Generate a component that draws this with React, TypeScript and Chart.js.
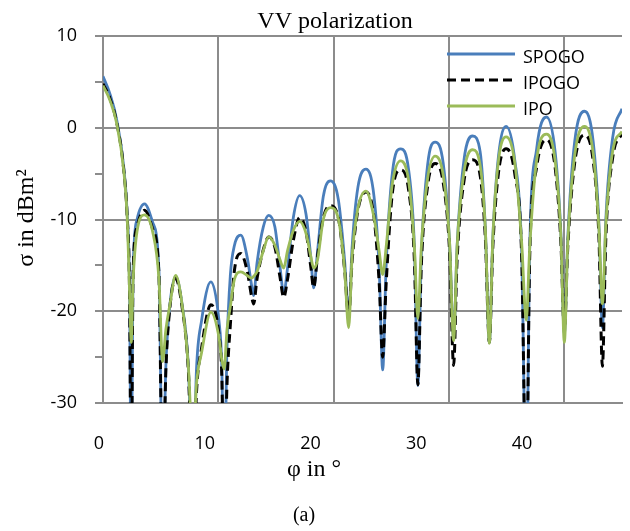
import { useEffect, useRef } from "react";
import { Chart, registerables } from "chart.js";

Chart.register(...registerables);

// ---- data ----
const PHI = [
  0, 0.6, 1.2, 1.8, 2.1, 2.3, 2.45,
  2.6, 2.95, 3.6, 4.3, 4.85, 5.17,
  5.45, 5.8, 6.3, 6.85, 7.4, 7.8,
  8.1, 8.55, 9.35, 10.05, 10.3, 10.5,
  10.75, 11.04, 11.4, 11.95, 12.5, 12.9, 13.06,
  13.35, 13.9, 14.37, 14.9, 15.35, 15.67,
  16.0, 16.5, 17.05, 17.6, 18.0, 18.27,
  18.6, 19.1, 19.71, 20.4, 20.95, 21.3,
  21.6, 22.1, 22.8, 23.5, 23.95, 24.25,
  24.55, 25.1, 25.8, 26.5, 27.0, 27.3,
  27.6, 28.15, 28.8, 29.5, 30.05, 30.4,
  30.7, 31.3, 32.05, 32.7, 33.15, 33.5,
  33.8, 34.3, 34.95, 35.7, 36.3, 36.7,
  37.0, 37.6, 38.45, 39.2, 39.7, 40.0,
  40.3, 40.9, 41.75, 42.5, 43.0, 43.3,
  43.6, 44.2, 45,
];

const SPOGO = [
  5.6, 3.7, 0.8, -4.3, -9.4, -17.4, -40,
  -16, -10, -8.3, -10.3, -15.5, -40,
  -26, -19.3, -16.2, -19.2, -26, -40,
  -26.5, -21, -16.8, -21, -26, -40,
  -24, -16.1, -12.8, -11.7, -14.1, -17.3, -18.3,
  -14.8, -10.8, -9.55, -10.8, -15.2, -18.1,
  -15.3, -9.8, -7.4, -9.4, -13.9, -17.45,
  -13.5, -7.5, -5.8, -7.8, -14.5, -20.6,
  -13, -6.5, -4.5, -7.5, -15.5, -26.4,
  -15, -4.8, -2.3, -4.6, -13, -28.1,
  -14, -4, -1.56, -3.9, -12.5, -23.0,
  -13, -3.5, -0.9, -2.6, -11, -23.4,
  -12, -3, 0.15, -3.5, -13.5, -40,
  -13, -2.3, 1.17, -2.6, -11.5, -22.5,
  -12, -1.5, 1.8, -1.5, -10.5, -21.8,
  -10, -1, 2.07,
];

const IPOGO = [
  4.8, 3.2, 0.5, -4.6, -9.8, -17.8, -40,
  -16.5, -10.8, -9.0, -11, -16, -40,
  -26.5, -19.6, -16.4, -19.5, -26.5, -40,
  -29, -24, -19.3, -22.5, -27, -40,
  -28, -21.5, -15.5, -13.7, -15.6, -18.5, -19.2,
  -16.5, -13.3, -11.9, -13, -16.3, -18.5,
  -16.5, -12.3, -9.8, -11.3, -15, -17.4,
  -14, -9.8, -8.5, -9.8, -15.5, -20.6,
  -14.5, -9, -7.0, -9.8, -17, -25.0,
  -17, -7.0, -4.6, -6.8, -14.5, -28,
  -15, -6.3, -3.9, -6, -13.5, -25.9,
  -14.5, -5.8, -3.5, -5.2, -12, -23.4,
  -13, -4.8, -2.3, -5, -14, -40,
  -14, -4.3, -1.3, -4.3, -12.5, -22,
  -13, -3.8, -0.8, -3.6, -12, -26,
  -12, -3.2, -0.6,
];

const IPO = [
  4.6, 3.0, 0.4, -4.7, -9.8, -17.7, -23.4,
  -17, -11.3, -9.5, -11.3, -16.5, -25.5,
  -22, -19.3, -16.1, -19.2, -26, -35,
  -28, -24.5, -20.1, -22.8, -25.3, -26.3,
  -22, -19.5, -16.5, -15.7, -16.1, -16.4, -16.2,
  -15.7, -13.4, -11.9, -12.8, -14.4, -15.3,
  -13.4, -11.2, -10.2, -11.5, -13.9, -15.3,
  -14.4, -10, -8.7, -9.9, -15.5, -21.8,
  -14, -8.8, -6.9, -9.8, -13.5, -16.0,
  -13, -6, -3.6, -5.8, -13, -20.8,
  -13, -5.5, -3.1, -5.2, -12.5, -23.2,
  -13, -4.8, -2.4, -4.1, -11, -23.5,
  -12, -3.5, -1.0, -3.8, -12.5, -21,
  -13, -3.5, -0.7, -3.6, -11.8, -23.4,
  -12.5, -3, 0.15, -2.8, -11, -19.2,
  -10.5, -2.5, -0.4,
];

const SERIES_NAMES = ["SPOGO", "IPOGO", "IPO"];
const X_TICKS = [0, 10, 20, 30, 40];
const Y_TICKS = [-30, -25, -20, -15, -10, -5, 0, 5, 10];
const TITLE = "VV polarization";
const X_TITLE = "φ in °";
const Y_TITLE = "σ in dBm²";
const CAPTION = "(a)";

const GRID = "#8c8c8c";
const SANS = '"Open Sans", "Liberation Sans", sans-serif';
const SERIF = '"Liberation Serif", "DejaVu Serif", serif';

export default function App() {
  const ref = useRef<HTMLCanvasElement>(null);

  useEffect(() => {
    if (!ref.current) return;
    const pts = (ys: number[]) => PHI.map((x, i) => ({ x, y: ys[i] }));

    const textPlugin = {
      id: "texts",
      afterDraw(chart: any) {
        const ctx = chart.ctx;
        ctx.save();
        ctx.fillStyle = "#000";
        ctx.textAlign = "center";
        ctx.textBaseline = "alphabetic";
        ctx.font = `24px ${SERIF}`;
        ctx.fillText(TITLE, 335, 28);
        ctx.fillText(X_TITLE, 314, 476);
        ctx.font = `20px ${SERIF}`;
        ctx.fillText(CAPTION, 304, 521);
        ctx.translate(33, 218);
        ctx.rotate(-Math.PI / 2);
        ctx.font = `24px ${SERIF}`;
        ctx.fillText(Y_TITLE, 0, 0);
        ctx.restore();
      },
    };

    const legendPlugin = {
      id: "insideLegend",
      afterDatasetsDraw(chart: any) {
        const ctx = chart.ctx;
        ctx.save();
        chart.data.datasets.forEach((ds: any, i: number) => {
          const y = 54 + i * 26;
          ctx.beginPath();
          ctx.strokeStyle = ds.borderColor;
          ctx.lineWidth = 3;
          ctx.setLineDash(ds.borderDash || []);
          ctx.moveTo(447, y);
          ctx.lineTo(515, y);
          ctx.stroke();
          ctx.setLineDash([]);
          ctx.fillStyle = "#000";
          ctx.font = `18px ${SANS}`;
          ctx.textAlign = "left";
          ctx.textBaseline = "alphabetic";
          ctx.fillText(ds.label, 523, y + 8.5);
        });
        ctx.restore();
      },
    };

    const chart = new Chart(ref.current, {
      type: "line",
      data: {
        datasets: [
          {
            label: SERIES_NAMES[0],
            data: pts(SPOGO),
            borderColor: "#4a7ebb",
            borderWidth: 2.8,
            pointRadius: 0,
            cubicInterpolationMode: "monotone",
            order: 3,
          },
          {
            label: SERIES_NAMES[1],
            data: pts(IPOGO),
            borderColor: "#000000",
            borderWidth: 3,
            borderDash: [9, 5],
            pointRadius: 0,
            cubicInterpolationMode: "monotone",
            order: 2,
          },
          {
            label: SERIES_NAMES[2],
            data: pts(IPO),
            borderColor: "#9bbb59",
            borderWidth: 2.8,
            pointRadius: 0,
            cubicInterpolationMode: "monotone",
            order: 1,
          },
        ],
      },
      options: {
        responsive: false,
        animation: false,
        layout: { padding: { left: 0, right: 8, top: 36, bottom: 0 } },
        plugins: {
          legend: { display: false },
          tooltip: { enabled: false },
          title: { display: false },
        },
        scales: {
          x: {
            type: "linear",
            position: "bottom",
            min: 0,
            max: 45,
            afterBuildTicks: (s: any) => {
              s.ticks = X_TICKS.map((v) => ({ value: v }));
            },
            afterFit: (s: any) => {
              s.height = 0;
            },
            ticks: { display: false },
            grid: { color: GRID, lineWidth: 2, drawTicks: false },
            border: { display: true, color: GRID, width: 2 },
          },
          xl: {
            type: "linear",
            position: "bottom",
            min: 0.378,
            max: 49.46,
            afterBuildTicks: (s: any) => {
              s.ticks = X_TICKS.map((v) => ({ value: v }));
            },
            afterFit: (s: any) => {
              s.height = 128;
            },
            grid: { display: false, drawTicks: false },
            border: { display: false },
            ticks: {
              color: "#000",
              font: { family: SANS, size: 18 },
              padding: 30,
              maxRotation: 0,
              autoSkip: false,
              callback: (v: any) => String(v),
            },
          },
          y: {
            type: "linear",
            min: -30,
            max: 10,
            afterBuildTicks: (s: any) => {
              s.ticks = Y_TICKS.map((v) => ({ value: v }));
            },
            afterFit: (s: any) => {
              s.width = 103;
            },
            ticks: {
              color: "#000",
              font: { family: SANS, size: 18 },
              padding: 18,
              autoSkip: false,
              callback: (v: any) => (Number(v) % 10 === 0 ? String(v) : ""),
            },
            grid: {
              color: (c: any) =>
                c.tick && c.tick.value % 10 === 0 ? GRID : "rgba(0,0,0,0)",
              tickColor: GRID,
              tickLength: 8,
              lineWidth: 2,
            },
            border: { display: true, color: GRID, width: 2 },
          },
        },
      },
      plugins: [legendPlugin, textPlugin],
    } as any);

    return () => chart.destroy();
  }, []);

  return (
    <div
      style={{
        position: "fixed",
        left: 0,
        top: 0,
        width: 630,
        height: 531,
        background: "#fff",
      }}
    >
      <canvas ref={ref} width={630} height={531} style={{ display: "block" }} />
    </div>
  );
}
